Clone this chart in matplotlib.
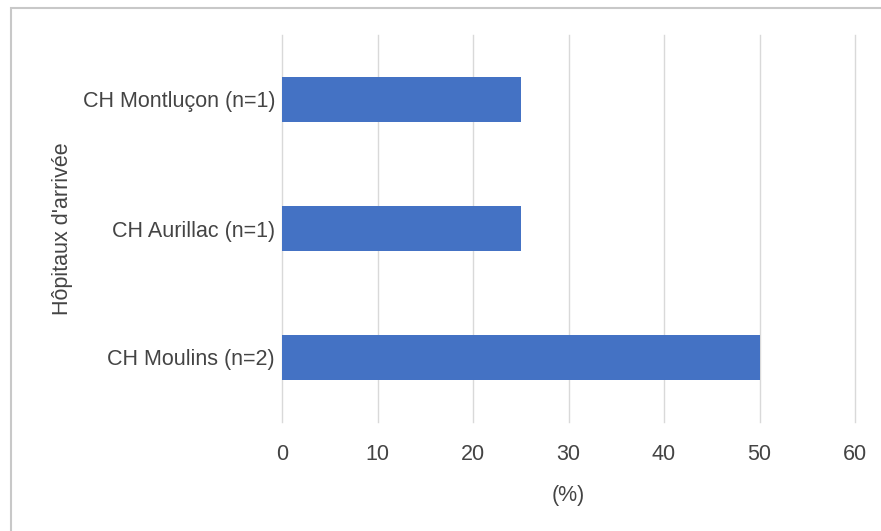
import matplotlib.pyplot as plt
from matplotlib.patches import Rectangle

# donnees
hopitaux = ['CH Moulins (n=2)', 'CH Aurillac (n=1)', 'CH Montluçon (n=1)']
pourcentages = [50, 25, 25]
graduations = [0, 10, 20, 30, 40, 50, 60]

BAR_COLOR = '#4472c4'
TEXT_COLOR = '#444444'
GRID_COLOR = '#d9d9d9'
FS = 15.5

plt.rcParams['font.family'] = ['Liberation Sans', 'DejaVu Sans']

W, H = 881, 531
fig = plt.figure(figsize=(W / 100, H / 100), dpi=100)
ax = fig.add_axes([282 / W, 1 - 422 / H, (855 - 282) / W, (422 - 35) / H])

y = range(len(hopitaux))
ax.barh(y, pourcentages, height=0.35, color=BAR_COLOR, zorder=3)

ax.set_xlim(0, 60)
ax.set_ylim(-0.5, len(hopitaux) - 0.5)
ax.set_xticks(graduations)
ax.set_yticks(list(y))
ax.set_yticklabels(hopitaux)
ax.grid(axis='x', color=GRID_COLOR, linewidth=1, zorder=0)
for gl in ax.get_xgridlines():
    gl.set_clip_on(False)
for s in ax.spines.values():
    s.set_visible(False)
ax.tick_params(axis='both', length=0, colors=TEXT_COLOR, labelsize=FS)
ax.tick_params(axis='x', pad=16)
ax.tick_params(axis='y', pad=5)

ax.set_xlabel('(%)', fontsize=FS, color=TEXT_COLOR, labelpad=14)
ax.set_ylabel("Hôpitaux d'arrivée", fontsize=FS, color=TEXT_COLOR, labelpad=7)

# cadre gris autour du graphique
fig.patches.append(Rectangle((11 / W, -0.1), 1, 1 - 8 / H + 0.1, transform=fig.transFigure,
                             fill=False, edgecolor='#c8c8c8', linewidth=1.5))

fig.savefig('out.png', dpi=100)
